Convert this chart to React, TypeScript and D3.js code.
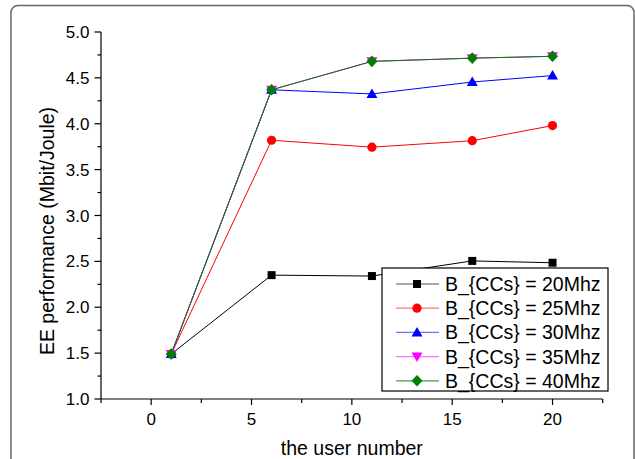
import React from "react";
import * as d3 from "d3";

const xValues = [1, 6, 11, 16, 20];
const series20 = [1.49, 2.35, 2.34, 2.505, 2.485];
const series25 = [1.49, 3.82, 3.745, 3.815, 3.98];
const series30 = [1.49, 4.37, 4.325, 4.455, 4.525];
const series35 = [1.49, 4.37, 4.68, 4.715, 4.735];
const series40 = [1.49, 4.37, 4.68, 4.715, 4.735];
const seriesLabels = [
  "B_{CCs} = 20Mhz",
  "B_{CCs} = 25Mhz",
  "B_{CCs} = 30Mhz",
  "B_{CCs} = 35Mhz",
  "B_{CCs} = 40Mhz",
];
const seriesColors = ["#000000", "#ff0000", "#0000ff", "#ff00ff", "#008000"];
const legendLineColors = ["#555555", "#ff7070", "#7070ff", "#ff70ff", "#40a040"];
const seriesShapes = ["square", "circle", "triangle", "triangleDown", "diamond"];
const xTicks = [0, 5, 10, 15, 20];
const xMinorTicks = [-2.5, 2.5, 7.5, 12.5, 17.5, 22.5];
const yTicks = [1.0, 1.5, 2.0, 2.5, 3.0, 3.5, 4.0, 4.5, 5.0];
const yMinorTicks = [1.25, 1.75, 2.25, 2.75, 3.25, 3.75, 4.25, 4.75];

const W = 635;
const H = 459;
const FONT = "'Liberation Sans', Arial, Helvetica, sans-serif";

function Marker({ shape, x, y, color }: { shape: string; x: number; y: number; color: string }) {
  if (shape === "square") {
    return <rect x={x - 4} y={y - 4} width={8} height={8} fill={color} />;
  }
  if (shape === "circle") {
    return <circle cx={x} cy={y} r={4.6} fill={color} />;
  }
  if (shape === "triangle") {
    return <path d={`M${x},${y - 5.5} L${x + 5.5},${y + 4} L${x - 5.5},${y + 4} Z`} fill={color} />;
  }
  if (shape === "triangleDown") {
    return <path d={`M${x},${y + 5.5} L${x + 5.5},${y - 4} L${x - 5.5},${y - 4} Z`} fill={color} />;
  }
  return <path d={`M${x},${y - 5.8} L${x + 5.5},${y} L${x},${y + 5.8} L${x - 5.5},${y} Z`} fill={color} />;
}

export default function App() {
  const left = 101;
  const right = 602.7;
  const top = 32;
  const bottom = 399;
  const x = d3.scaleLinear().domain([-2.5, 22.5]).range([left, right]);
  const y = d3.scaleLinear().domain([1.0, 5.0]).range([bottom, top]);
  const allSeries = [series20, series25, series30, series35, series40];
  const line = d3
    .line<number>()
    .x((_, i) => x(xValues[i]))
    .y((d) => y(d));

  const legX = 382;
  const legY = 268;
  const legW = 226;
  const legH = 123;
  const rowStart = 284;
  const rowStep = 24.2;

  return (
    <svg
      width={W}
      height={H}
      style={{ position: "absolute", left: 0, top: 0, background: "#fff" }}
      fontFamily={FONT}
    >
      <rect x={0} y={0} width={W} height={H} fill="#fff" />
      <rect x={11} y={5.5} width={623} height={480} rx={7} fill="none" stroke="#666" strokeWidth={1.5} />

      {/* axes */}
      <line x1={left} x2={left} y1={top} y2={bottom} stroke="#000" strokeWidth={1.2} />
      <line x1={left} x2={right} y1={bottom} y2={bottom} stroke="#000" strokeWidth={1.2} />
      {yTicks.map((t) => (
        <g key={"yt" + t}>
          <line x1={left - 6.5} x2={left} y1={y(t)} y2={y(t)} stroke="#000" strokeWidth={1.2} />
          <text x={89.5} y={y(t) + 6} textAnchor="end" fontSize={17} fill="#000">
            {t.toFixed(1)}
          </text>
        </g>
      ))}
      {yMinorTicks.map((t) => (
        <line key={"ym" + t} x1={left - 3.5} x2={left} y1={y(t)} y2={y(t)} stroke="#000" strokeWidth={1.2} />
      ))}
      {xTicks.map((t) => (
        <g key={"xt" + t}>
          <line x1={x(t)} x2={x(t)} y1={bottom} y2={bottom + 6} stroke="#000" strokeWidth={1.2} />
          <text x={x(t)} y={425} textAnchor="middle" fontSize={17} fill="#000">
            {t}
          </text>
        </g>
      ))}
      {xMinorTicks.map((t) => (
        <line key={"xm" + t} x1={x(t)} x2={x(t)} y1={bottom} y2={bottom + 4} stroke="#000" strokeWidth={1.2} />
      ))}

      <text x={(left + right) / 2} y={455} textAnchor="middle" fontSize={19.5} fill="#000">
        the user number
      </text>
      <text
        transform={`translate(54,${231}) rotate(-90)`}
        textAnchor="middle"
        fontSize={19.5}
        fill="#000"
      >
        EE performance (Mbit/Joule)
      </text>

      {/* series */}
      {allSeries.map((s, si) => (
        <g key={"s" + si}>
          <path d={line(s) || ""} fill="none" stroke={seriesColors[si]} strokeWidth={1} />
          {s.map((v, i) => (
            <Marker key={i} shape={seriesShapes[si]} x={x(xValues[i])} y={y(v)} color={seriesColors[si]} />
          ))}
        </g>
      ))}

      {/* legend */}
      <rect x={legX} y={legY} width={legW} height={legH} fill="#fff" stroke="#000" strokeWidth={1.2} />
      {seriesLabels.map((lab, i) => {
        const cy = rowStart + i * rowStep;
        return (
          <g key={"l" + i}>
            <line x1={396} x2={439} y1={cy} y2={cy} stroke={legendLineColors[i]} strokeWidth={1.2} />
            <Marker shape={seriesShapes[i]} x={417} y={cy} color={seriesColors[i]} />
            <text x={445} y={cy + 7} fontSize={19.5} fill="#000">
              {lab}
            </text>
          </g>
        );
      })}
    </svg>
  );
}
